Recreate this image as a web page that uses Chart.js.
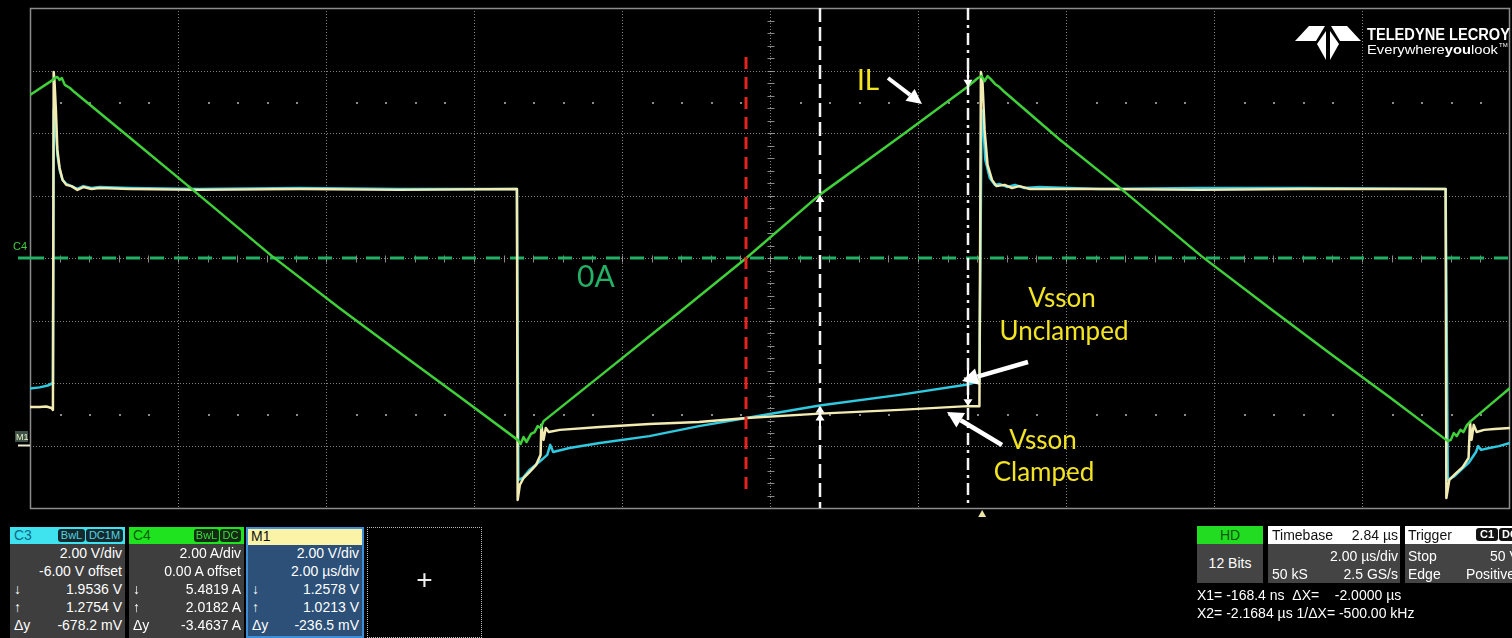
<!DOCTYPE html>
<html>
<head>
<meta charset="utf-8">
<title>Inductor current and Vsson, clamped vs unclamped</title>
<script src="https://cdn.jsdelivr.net/npm/chart.js"></script>
<style>
  html, body { margin:0; padding:0; background:#000; }
  #scope { position:relative; width:1512px; height:638px; overflow:hidden; background:#000;
           font-family:"Liberation Sans", Arial, sans-serif; color:#fff; }
  #plot { position:absolute; left:0; top:0; }
  #overlay { position:absolute; left:0; top:0; pointer-events:none; }
  .box { position:absolute; overflow:hidden; box-sizing:border-box; }
  .hdr { position:absolute; left:0; top:0; right:0; height:17px; font-size:14px; line-height:17px; }
  .body { position:absolute; left:0; right:0; top:17px; bottom:0; }
  .row { position:absolute; left:4px; right:3px; height:18px; line-height:18px; font-size:14px; white-space:pre; }
  .row .l { position:absolute; left:0; }
  .row .r { position:absolute; right:0; }
  .tag { position:absolute; top:2px; height:13px; line-height:13px; font-size:11px; border-radius:3px;
         text-align:center; box-sizing:border-box; }
  .cur { position:absolute; left:1197px; font-size:14px; line-height:18px; white-space:pre; }
</style>
</head>
<body>
<div id="scope">
  <canvas id="plot" width="1512" height="638"></canvas>

  <!-- channel readouts -->
  <div class="box" style="left:10px;top:527px;width:115px;height:111px;">
    <div class="hdr" style="background:#3fe2ef;color:#0f6a84;"><span style="margin-left:4px">C3</span>
      <span class="tag" style="left:48px;width:27px;background:#16292d;color:#4fd3e3;">BwL</span>
      <span class="tag" style="left:76px;width:37px;background:#16292d;color:#4fd3e3;">DC1M</span>
    </div>
    <div class="body" style="background:#3e3e3e;" id="c3Body"></div>
  </div>
  <div class="box" style="left:129px;top:527px;width:115px;height:111px;">
    <div class="hdr" style="background:#1fe31f;color:#0b5c0b;"><span style="margin-left:4px">C4</span>
      <span class="tag" style="left:65px;width:25px;background:#142a14;color:#39dd39;">BwL</span>
      <span class="tag" style="left:91px;width:21px;background:#142a14;color:#39dd39;">DC</span>
    </div>
    <div class="body" style="background:#3e3e3e;" id="c4Body"></div>
  </div>
  <div class="box" style="left:246px;top:527px;width:118px;height:111px;border:2px solid #3d8fd8;">
    <div class="hdr" style="background:#fbf4a8;color:#111;top:-1px;"><span style="margin-left:3px">M1</span></div>
    <div class="body" style="background:#2c5077;top:16px;" id="m1Body"></div>
  </div>
  <div class="box" style="left:367px;top:527px;width:115px;height:111px;border:1px dotted #bdbdbd;">
    <div style="position:absolute;left:0;right:0;top:36px;text-align:center;font-size:28px;line-height:32px;color:#eee;">+</div>
  </div>

  <!-- acquisition / timebase / trigger -->
  <div class="box" style="left:1197px;top:526px;width:66px;height:57px;">
    <div class="hdr" style="background:#22dc22;color:#0d560d;height:18px;line-height:18px;text-align:center;">HD</div>
    <div class="body" style="background:#444;top:18px;"><div style="position:absolute;left:0;right:0;top:10px;text-align:center;font-size:14px;line-height:18px;">12 Bits</div></div>
  </div>
  <div class="box" style="left:1268px;top:526px;width:132px;height:57px;">
    <div class="hdr" style="background:#fff;color:#111;height:18px;line-height:18px;"><span style="position:absolute;left:4px">Timebase</span><span id="tbDelay" style="position:absolute;right:2px"></span></div>
    <div class="body" style="background:#444;top:18px;">
      <div class="row" style="top:3px;left:4px;right:2px;"><span class="r" id="tbDiv"></span></div>
      <div class="row" style="top:21px;left:4px;right:2px;"><span class="l">50 kS</span><span class="r">2.5 GS/s</span></div>
    </div>
  </div>
  <div class="box" style="left:1405px;top:526px;width:120px;height:57px;">
    <div class="hdr" style="background:#fff;color:#111;height:18px;line-height:18px;"><span style="position:absolute;left:3px">Trigger</span>
      <span class="tag" style="left:71px;width:22px;background:#111;color:#fff;font-weight:bold;">C1</span>
      <span class="tag" style="left:94px;width:22px;background:#111;color:#fff;font-weight:bold;">DC</span>
    </div>
    <div class="body" style="background:#444;top:18px;">
      <div class="row" style="top:3px;left:3px;right:0;"><span class="l">Stop</span><span class="l" style="left:82px">50 V</span></div>
      <div class="row" style="top:21px;left:3px;right:0;"><span class="l">Edge</span><span class="l" style="left:58px">Positive</span></div>
    </div>
  </div>
  <div class="cur" style="top:586px;" id="curLine1"></div>
  <div class="cur" style="top:604px;" id="curLine2"></div>

  <svg id="overlay" width="1512" height="638" xmlns="http://www.w3.org/2000/svg">
    <!-- trace notes -->
    <g font-family="Lato, 'Open Sans', sans-serif" fill="#f3e423">
      <text x="857" y="90" font-size="28">IL</text>
      <text x="1062" y="307" font-size="26" text-anchor="middle">Vsson</text>
      <text x="1064" y="340" font-size="26" text-anchor="middle">Unclamped</text>
      <text x="1043" y="449" font-size="26" text-anchor="middle">Vsson</text>
      <text x="1044" y="481" font-size="26" text-anchor="middle">Clamped</text>
    </g>
    <text x="577" y="287" font-family="Lato, 'Open Sans', sans-serif" font-size="30" fill="#22b167">0A</text>
    <!-- trace reference labels -->
    <text x="13" y="250" font-family="Liberation Sans, sans-serif" font-size="11" fill="#3fcf3f">C4</text>
    <rect x="15" y="431" width="13" height="11" fill="#3d5147"/>
    <text x="16" y="440" font-family="Liberation Sans, sans-serif" font-size="9" fill="#e8efc8">M1</text>
    <!-- brand mark -->
    <g fill="#fff">
      <polygon points="1295,41 1309,26 1325,26 1316,41"/>
      <polygon points="1361,41 1347,26 1331,26 1340,41"/>
      <polygon points="1317,44 1326,31 1326,60"/>
      <polygon points="1339,44 1330,31 1330,60"/>
      <text x="1367" y="40" font-family="Liberation Sans, sans-serif" font-weight="bold" font-size="16" textLength="143" lengthAdjust="spacingAndGlyphs">TELEDYNE LECROY</text>
      <text x="1367" y="54" font-family="Liberation Sans, sans-serif" font-size="13.5" textLength="131" lengthAdjust="spacingAndGlyphs">Everywhere<tspan font-weight="bold">you</tspan>look</text>
      <text x="1499" y="47" font-family="Liberation Sans, sans-serif" font-size="6">TM</text>
    </g>
  </svg>
</div>

<script>
// ---- acquisition settings ----
const timeCenter = -2.84;      // µs (timebase delay)
const timePerDiv = 2.00;       // µs/div
const c3PerDiv = 2.00, c3Offset = -6.00;   // V
const c4PerDiv = 2.00, c4Offset = 0.00;    // A
const m1PerDiv = 2.00;                     // V

// ---- cursors (µs) ----
const cursorX1 = -0.1684;
const cursorX2 = -2.1684;
const markerRed = -3.16;

// cursor readouts [at X1, at X2]
const c3Readout = [1.9536, 1.2754];
const c4Readout = [5.4819, 2.0182];
const m1Readout = [1.2578, 1.0213];

// ---- C4: inductor current IL (µs, A) ----
const ilTime = [-12.84,-12.53,-12.51,-12.47,-12.44,-12.41,-12.37,-12.30,-12.24,-11.49,-10.72,-9.57,-8.66,-7.84,-7.03,-6.25,
  -6.21,-6.17,-6.13,-6.07,-6.02,-5.98,-5.94,-5.90,-5.14,-4.06,-3.16,-2.17,-1.09,-0.17,-0.03,0.02,0.06,0.10,0.14,0.20,0.26,0.33,
  1.07,1.84,2.99,3.91,4.72,5.53,6.32,6.36,6.40,6.44,6.49,6.53,6.58,6.63,6.89,7.16];
const ilAmps = [5.22,5.70,5.76,5.79,5.70,5.76,5.54,5.44,5.31,3.85,2.34,0.06,-1.60,-3.04,-4.45,-5.82,
  -5.95,-5.73,-5.89,-5.63,-5.57,-5.38,-5.44,-5.22,-3.78,-1.73,0.00,2.02,3.87,5.48,5.76,5.82,5.66,5.82,5.73,5.57,5.47,5.31,
  3.80,2.34,0.06,-1.60,-3.04,-4.45,-5.86,-5.82,-5.60,-5.70,-5.50,-5.57,-5.34,-5.22,-4.70,-4.16];

// ---- C3: Vsson unclamped (µs, V) ----
const c3Time = [-12.84,-12.71,-12.60,-12.53,-12.52,-12.49,-12.47,-12.44,-12.40,-12.35,-12.28,-12.20,-12.12,-12.01,-11.90,-11.49,
  -10.55,-9.20,-7.85,-6.26,-6.24,-6.18,-6.09,-5.96,-5.85,-5.81,-5.77,-5.55,-5.14,-4.47,-3.80,-3.16,-2.17,-1.09,-0.17,-0.01,
  0.02,0.05,0.07,0.13,0.20,0.26,0.37,0.47,0.60,0.80,1.61,2.97,4.32,6.29,6.32,6.41,6.50,6.61,6.70,6.73,6.77,6.88,7.01,7.16];
const c3Volts = [1.82,1.86,1.92,2.00,10.74,10.10,9.30,8.82,8.50,8.37,8.30,8.21,8.30,8.24,8.27,8.24,
  8.21,8.24,8.21,8.21,-1.10,-1.04,-0.78,-0.53,-0.30,0.02,-0.21,-0.08,0.08,0.30,0.62,0.88,1.28,1.62,1.95,2.06,
  10.74,9.94,9.14,8.56,8.34,8.37,8.27,8.34,8.24,8.27,8.21,8.24,8.24,8.21,-1.10,-0.98,-0.78,-0.53,-0.21,-0.02,-0.14,-0.08,-0.02,0.08];

// ---- M1: Vsson clamped (µs, V) ----
const m1Time = [-12.84,-12.71,-12.62,-12.55,-12.53,-12.52,-12.51,-12.49,-12.47,-12.44,-12.40,-12.35,-12.28,-12.20,-12.12,-12.01,
  -11.90,-11.49,-10.55,-9.20,-7.85,-6.26,-6.25,-6.22,-6.17,-6.09,-6.00,-5.94,-5.93,-5.90,-5.87,-5.83,-5.68,-5.14,-4.47,-3.80,
  -3.16,-2.17,-1.09,-0.17,-0.01,0.01,0.03,0.06,0.10,0.16,0.22,0.33,0.43,0.53,0.67,1.61,2.97,4.32,6.29,6.30,6.34,6.42,6.52,6.60,
  6.62,6.64,6.67,6.71,6.81,6.95,7.16];
const m1Volts = [1.23,1.23,1.25,1.20,1.14,11.95,11.70,10.74,9.46,8.88,8.50,8.34,8.30,8.18,8.27,8.21,
  8.24,8.21,8.18,8.21,8.18,8.21,-1.74,-1.26,-1.04,-0.85,-0.62,-0.30,0.66,0.18,0.56,0.43,0.50,0.59,0.69,0.75,
  0.88,1.02,1.14,1.26,1.26,11.95,11.70,10.10,8.98,8.50,8.30,8.34,8.24,8.30,8.21,8.21,8.18,8.21,8.21,-1.68,-1.10,-0.91,-0.69,-0.40,
  0.75,0.18,0.66,0.43,0.50,0.53,0.56];

const toPoints = (xs, ys) => xs.map((x, i) => ({ x, y: ys[i] }));

// ---- readout panels ----
function fillRows(id, rows, first) {
  const el = document.getElementById(id);
  rows.forEach((r, i) => {
    const d = document.createElement('div');
    d.className = 'row';
    d.style.top = (first + i * 18) + 'px';
    d.innerHTML = '<span class="l">' + r[0] + '</span><span class="r">' + r[1] + '</span>';
    el.appendChild(d);
  });
}
const mv = v => (v * 1000).toFixed(1) + ' mV';
fillRows('c3Body', [
  ['', c3PerDiv.toFixed(2) + ' V/div'], ['', c3Offset.toFixed(2) + ' V offset'],
  ['↓', c3Readout[0].toFixed(4) + ' V'], ['↑', c3Readout[1].toFixed(4) + ' V'],
  ['Δy', mv(c3Readout[1] - c3Readout[0])]], 0);
fillRows('c4Body', [
  ['', c4PerDiv.toFixed(2) + ' A/div'], ['', c4Offset.toFixed(2) + ' A offset'],
  ['↓', c4Readout[0].toFixed(4) + ' A'], ['↑', c4Readout[1].toFixed(4) + ' A'],
  ['Δy', (c4Readout[1] - c4Readout[0]).toFixed(4) + ' A']], 0);
fillRows('m1Body', [
  ['', m1PerDiv.toFixed(2) + ' V/div'], ['', timePerDiv.toFixed(2) + ' µs/div'],
  ['↓', m1Readout[0].toFixed(4) + ' V'], ['↑', m1Readout[1].toFixed(4) + ' V'],
  ['Δy', mv(m1Readout[1] - m1Readout[0])]], -1);
document.getElementById('tbDelay').textContent = (-timeCenter).toFixed(2) + ' µs';
document.getElementById('tbDiv').textContent = timePerDiv.toFixed(2) + ' µs/div';
const dX = cursorX2 - cursorX1;
document.getElementById('curLine1').textContent =
  'X1= ' + (cursorX1 * 1000).toFixed(1) + ' ns  ΔX=    ' + dX.toFixed(4) + ' µs';
document.getElementById('curLine2').textContent =
  'X2= ' + cursorX2.toFixed(4) + ' µs 1/ΔX= ' + (1000 / dX).toFixed(2) + ' kHz';

// ---- drawing helpers ----
function seg(ctx, x0, y0, x1, y1) { ctx.beginPath(); ctx.moveTo(x0, y0); ctx.lineTo(x1, y1); ctx.stroke(); }
function arrow(ctx, x0, y0, x1, y1, w, head, headW) {
  const a = Math.atan2(y1 - y0, x1 - x0);
  const bx = x1 - head * Math.cos(a), by = y1 - head * Math.sin(a);
  ctx.lineWidth = w; seg(ctx, x0, y0, bx, by);
  ctx.beginPath(); ctx.moveTo(x1, y1);
  ctx.lineTo(bx + headW / 2 * Math.sin(a), by - headW / 2 * Math.cos(a));
  ctx.lineTo(bx - headW / 2 * Math.sin(a), by + headW / 2 * Math.cos(a));
  ctx.closePath(); ctx.fill();
}

// graticule, reference markers, cursors and notes
const scopeDecor = {
  id: 'scopeDecor',
  beforeDatasetsDraw(chart) {
    const { ctx, chartArea: a, scales } = chart;
    const dx = (a.right - a.left) / 10, dy = (a.bottom - a.top) / 8;
    ctx.save();
    ctx.strokeStyle = 'rgba(160,160,160,0.8)';
    ctx.lineWidth = 1;
    ctx.setLineDash([1, 2]);
    for (let i = 1; i < 10; i++) { const x = Math.round(a.left + i * dx) + 0.5; seg(ctx, x, a.top, x, a.bottom); }
    for (let j = 1; j < 8; j++) { const y = Math.round(a.top + j * dy) + 0.5; seg(ctx, a.left, y, a.right, y); }
    ctx.setLineDash([]);
    // minor dots
    ctx.fillStyle = 'rgba(170,170,170,0.8)';
    [1.5, 6.5].forEach(r => {
      const y = Math.round(a.top + r * dy);
      for (let k = 1; k < 50; k++) { if (k % 5) ctx.fillRect(Math.round(a.left + k * dx / 5), y, 2, 2); }
    });
    // centre-line ticks
    ctx.strokeStyle = 'rgba(170,170,170,0.8)';
    const cx = Math.round(a.left + 5 * dx) + 0.5, cy = Math.round(a.top + 4 * dy) + 0.5;
    for (let k = 1; k < 40; k++) { const y = Math.round(a.top + k * dy / 5) + 0.5; seg(ctx, cx - 3, y, cx + 4, y); }
    for (let k = 1; k < 50; k++) { const x = Math.round(a.left + k * dx / 5) + 0.5; seg(ctx, x, cy - 3, x, cy + 4); }
    // frame
    ctx.strokeStyle = '#8c8c8c'; ctx.lineWidth = 1.5;
    ctx.strokeRect(a.left + 0.5, a.top + 0.5, a.right - a.left - 1, a.bottom - a.top);
    // C4 zero-current reference
    const y0 = scales.yA.getPixelForValue(c4Offset);
    ctx.strokeStyle = '#21b064'; ctx.lineWidth = 3;
    seg(ctx, 18, y0, a.left, y0);
    ctx.setLineDash([14, 10]);
    seg(ctx, a.left, y0, a.right, y0);
    ctx.setLineDash([]);
    // C3 / M1 ground marker
    const g = scales.yV.getPixelForValue(0);
    ctx.strokeStyle = '#f0ecd0'; ctx.lineWidth = 2;
    seg(ctx, 18, g, a.left, g);
    ctx.restore();
  },
  afterDatasetsDraw(chart) {
    const { ctx, chartArea: a, scales } = chart;
    const x = scales.x, yA = scales.yA, yV = scales.yV;
    ctx.save();
    // reference marker
    const xr = Math.round(x.getPixelForValue(markerRed));
    ctx.strokeStyle = '#e5231f'; ctx.lineWidth = 3; ctx.setLineDash([12, 8]);
    seg(ctx, xr, a.top + 49, xr, a.bottom - 16);
    // X2 cursor (dashed) and X1 cursor (dash-dot)
    const x2 = Math.round(x.getPixelForValue(cursorX2)), x1 = Math.round(x.getPixelForValue(cursorX1));
    ctx.strokeStyle = '#f4f4f4'; ctx.lineWidth = 2.5;
    ctx.setLineDash([14, 5]); seg(ctx, x2, a.top, x2, a.bottom);
    ctx.setLineDash([12, 5, 3, 5]); seg(ctx, x1, a.top, x1, a.bottom);
    ctx.setLineDash([]);
    // cursor crossing markers
    ctx.strokeStyle = '#fff'; ctx.fillStyle = '#fff';
    const up = (px, py) => arrow(ctx, px, py + 15, px, py, 2, 7, 9);
    const dn = (px, py) => arrow(ctx, px, py - 17, px, py, 2, 7, 9);
    up(x2, yA.getPixelForValue(c4Readout[1]));
    up(x2, yV.getPixelForValue(c3Readout[1]));
    up(x2, yV.getPixelForValue(m1Readout[1]));
    dn(x1, yA.getPixelForValue(c4Readout[0]));
    dn(x1, yV.getPixelForValue(c3Readout[0]));
    dn(x1, yV.getPixelForValue(m1Readout[0]));
    // note arrows
    arrow(ctx, 888, 78, 922, 104, 4, 15, 15);
    arrow(ctx, 1028, 362, 962, 381, 4.5, 16, 17);
    arrow(ctx, 1002, 445, 947, 412, 4.5, 16, 17);
    // trigger position
    const xt = x.getPixelForValue(0) + 2;
    ctx.fillStyle = '#ece4a4';
    ctx.beginPath(); ctx.moveTo(xt, a.bottom + 2); ctx.lineTo(xt + 4, a.bottom + 9); ctx.lineTo(xt - 4, a.bottom + 9); ctx.closePath(); ctx.fill();
    ctx.restore();
  }
};

new Chart(document.getElementById('plot'), {
  type: 'line',
  data: {
    datasets: [
      { label: 'IL', data: toPoints(ilTime, ilAmps), yAxisID: 'yA', borderColor: '#3fd03a', borderWidth: 2.5, order: 0 },
      { label: 'Vsson clamped', data: toPoints(m1Time, m1Volts), yAxisID: 'yV', borderColor: '#f2ebb2', borderWidth: 2.5, order: 1 },
      { label: 'Vsson unclamped', data: toPoints(c3Time, c3Volts), yAxisID: 'yV', borderColor: '#2fc9e0', borderWidth: 2.5, order: 2 }
    ]
  },
  options: {
    responsive: false,
    animation: false,
    devicePixelRatio: 1,
    layout: { padding: { left: 30, top: 8, right: 2, bottom: 130 } },
    elements: { point: { radius: 0 }, line: { tension: 0, borderJoinStyle: 'round' } },
    plugins: { legend: { display: false }, tooltip: { enabled: false } },
    scales: {
      x: { type: 'linear', display: false, min: timeCenter - 5 * timePerDiv, max: timeCenter + 5 * timePerDiv },
      yA: { type: 'linear', display: false, min: c4Offset - 4 * c4PerDiv, max: c4Offset + 4 * c4PerDiv },
      yV: { type: 'linear', display: false, min: -c3Offset - 4 * c3PerDiv, max: -c3Offset + 4 * c3PerDiv }
    }
  },
  plugins: [scopeDecor]
});
</script>
</body>
</html>
